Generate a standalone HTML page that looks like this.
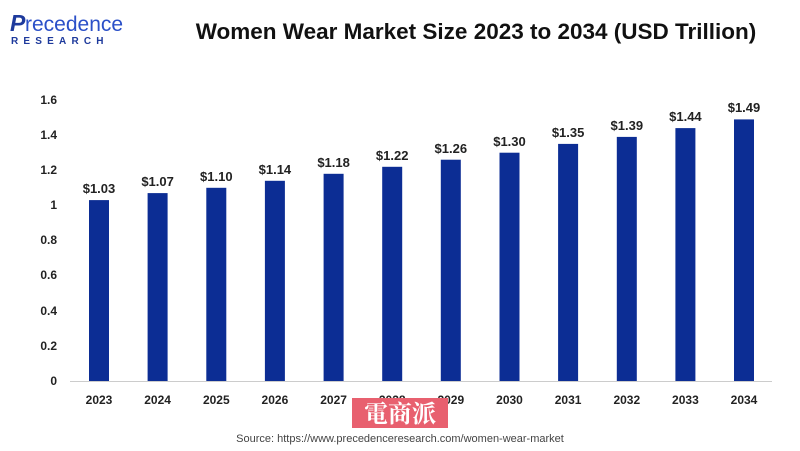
<!DOCTYPE html>
<html><head><style>
body{margin:0;background:#fff;}
svg{display:block;font-family:"Liberation Sans",Arial,sans-serif;}
</style></head><body>
<svg width="800" height="451" xmlns="http://www.w3.org/2000/svg">
<rect width="800" height="451" fill="#fff"/>
<text x="10" y="31" font-size="23" fill="#1e3a9c" font-weight="bold" font-style="italic">P</text>
<text x="25" y="31" font-size="21" fill="#2b50c8">recedence</text>
<text x="11" y="44" font-size="10" fill="#1e3a9c" font-weight="bold" letter-spacing="5.2">RESEARCH</text>
<text x="476" y="39" font-size="22.5" font-weight="bold" text-anchor="middle" fill="#111">Women Wear Market Size 2023 to 2034 (USD Trillion)</text>
<g font-size="12" font-weight="bold" fill="#222" text-anchor="end">
<text x="57" y="104">1.6</text><text x="57" y="139">1.4</text><text x="57" y="174">1.2</text>
<text x="57" y="209">1</text><text x="57" y="244">0.8</text><text x="57" y="279">0.6</text>
<text x="57" y="315">0.4</text><text x="57" y="350">0.2</text><text x="57" y="385">0</text>
</g>
<line x1="70" y1="381.5" x2="772" y2="381.5" stroke="#ccc" stroke-width="1"/>
<g fill="#0c2d94">
<rect x="89" y="200.1" width="20" height="180.9"/>
<rect x="147.6" y="193.1" width="20" height="187.9"/>
<rect x="206.3" y="187.8" width="20" height="193.2"/>
<rect x="264.9" y="180.8" width="20" height="200.2"/>
<rect x="323.6" y="173.8" width="20" height="207.2"/>
<rect x="382.2" y="166.8" width="20" height="214.2"/>
<rect x="440.8" y="159.7" width="20" height="221.3"/>
<rect x="499.5" y="152.7" width="20" height="228.3"/>
<rect x="558.1" y="143.9" width="20" height="237.1"/>
<rect x="616.8" y="136.9" width="20" height="244.1"/>
<rect x="675.4" y="128.1" width="20" height="252.9"/>
<rect x="734" y="119.4" width="20" height="261.6"/>
</g>
<g font-size="13" font-weight="bold" fill="#222" text-anchor="middle">
<text x="99" y="193">$1.03</text>
<text x="157.6" y="186">$1.07</text>
<text x="216.3" y="181">$1.10</text>
<text x="274.9" y="174">$1.14</text>
<text x="333.6" y="167">$1.18</text>
<text x="392.2" y="160">$1.22</text>
<text x="450.8" y="153">$1.26</text>
<text x="509.5" y="146">$1.30</text>
<text x="568.1" y="137">$1.35</text>
<text x="626.8" y="130">$1.39</text>
<text x="685.4" y="121">$1.44</text>
<text x="744" y="112">$1.49</text>
</g>
<g font-size="12" font-weight="bold" fill="#222" text-anchor="middle">
<text x="99" y="404">2023</text><text x="157.6" y="404">2024</text><text x="216.3" y="404">2025</text>
<text x="274.9" y="404">2026</text><text x="333.6" y="404">2027</text><text x="392.2" y="404">2028</text>
<text x="450.8" y="404">2029</text><text x="509.5" y="404">2030</text><text x="568.1" y="404">2031</text>
<text x="626.8" y="404">2032</text><text x="685.4" y="404">2033</text><text x="744" y="404">2034</text>
</g>
<rect x="352" y="398" width="96" height="30" fill="#e8606f"/>
<text x="400" y="422" font-size="24" fill="#fff" text-anchor="middle" font-family="'Noto Serif CJK SC','Noto Sans CJK SC',serif" font-weight="bold">電商派</text>
<text x="400" y="442" font-size="11" fill="#444" text-anchor="middle">Source: https://www.precedenceresearch.com/women-wear-market</text>
</svg>
</body></html>
